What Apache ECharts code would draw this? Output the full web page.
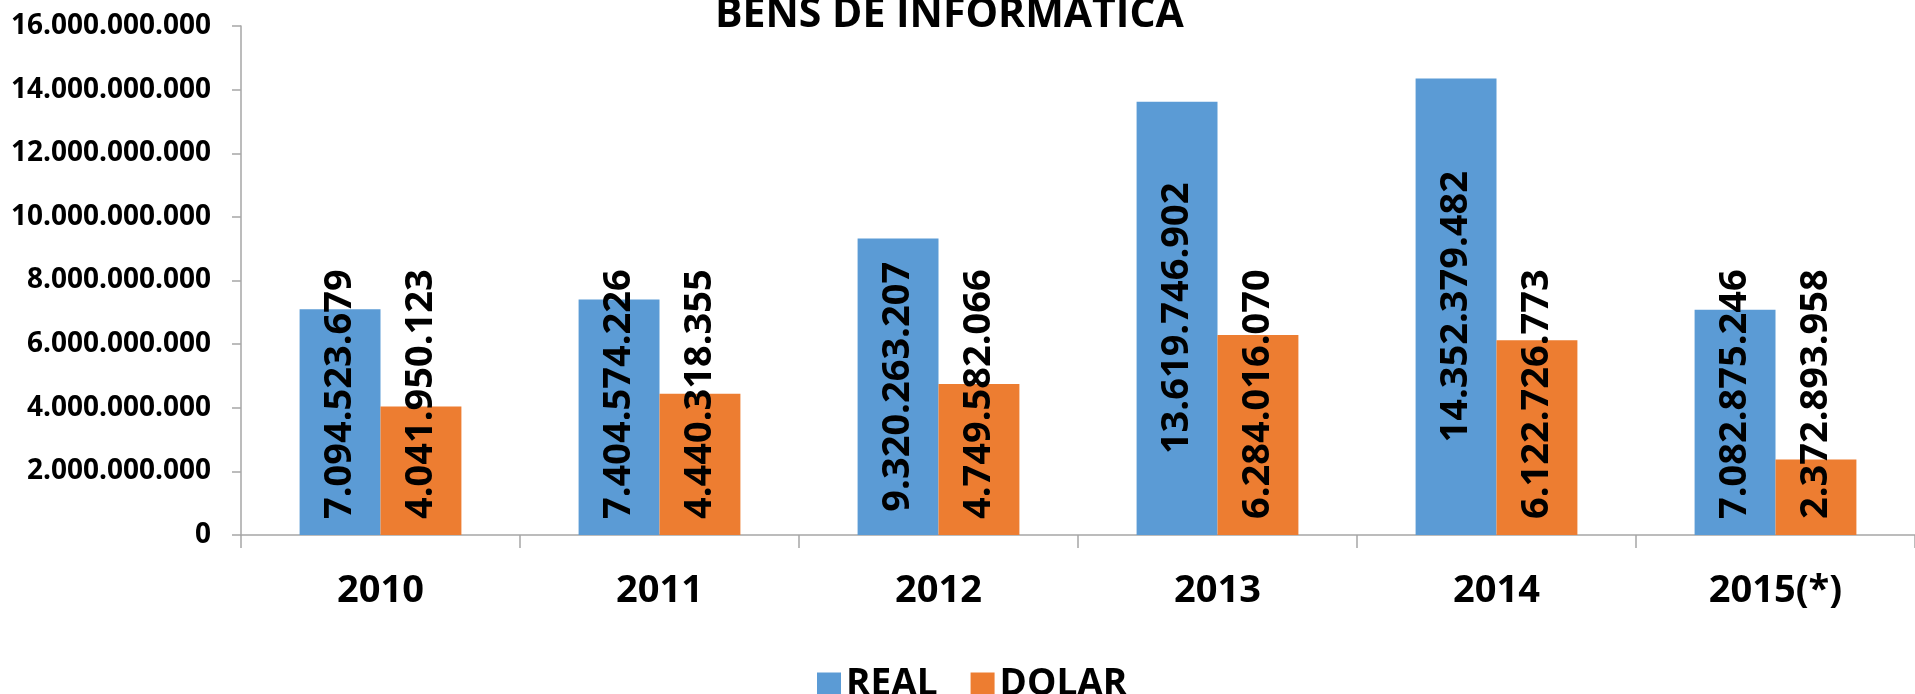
<!DOCTYPE html>
<html>
<head>
<meta charset="utf-8">
<script src="https://cdn.jsdelivr.net/npm/echarts@6/dist/echarts.min.js"></script>
<style>
  html, body { margin: 0; padding: 0; background: #fff; }
  #chart { width: 1915px; height: 694px; }
</style>
</head>
<body>
<div id="chart"></div>
<script>
const categories = ['2010', '2011', '2012', '2013', '2014', '2015(*)']
const realValues = [7094523679, 7404574226, 9320263207, 13619746902, 14352379482, 7082875246]
const dolarValues = [4041950123, 4440318355, 4749582066, 6284016070, 6122726773, 2372893958]
const yTicks = { min: 0, max: 16000000000, interval: 2000000000 }

// separador de milhar com ponto
function fmt (v) {
  return String(Math.round(v)).replace(/\B(?=(\d{3})+(?!\d))/g, '.')
}

const font = 'Open Sans'
const labelFontSize = 38
const labelDist = 16
const barLabel = {
  show: true,
  position: 'insideBottom',
  rotate: 90,
  align: 'left',
  verticalAlign: 'middle',
  distance: labelDist,
  color: '#000',
  fontFamily: font,
  fontWeight: 'bold',
  fontSize: labelFontSize,
  formatter: p => fmt(p.value)
}

const chart = echarts.init(document.getElementById('chart'))
const option = {
  animation: false,
  title: {
    text: 'BENS DE INFORMATICA',
    left: 710,
    top: -10,
    textStyle: { fontFamily: font, fontWeight: 'bold', fontSize: 41, color: '#000' }
  },
  legend: {
    top: 661,
    left: 812,
    itemWidth: 24,
    itemHeight: 24,
    itemGap: 33,
    icon: 'rect',
    textStyle: { fontFamily: font, fontWeight: 'bold', fontSize: 37, color: '#000' },
    data: ['REAL', 'DOLAR']
  },
  grid: { left: 241, width: 1680, top: 26, bottom: 159, containLabel: false },
  xAxis: {
    type: 'category',
    data: categories,
    axisLine: { lineStyle: { color: '#a6a6a6', width: 1.5 } },
    axisTick: { show: true, length: 13, lineStyle: { color: '#a6a6a6', width: 1.5 } },
    axisLabel: { color: '#000', fontFamily: font, fontWeight: 'bold', fontSize: 38, margin: 37 }
  },
  yAxis: {
    type: 'value',
    min: yTicks.min,
    max: yTicks.max,
    interval: yTicks.interval,
    splitLine: { show: false },
    axisLine: { show: true, lineStyle: { color: '#a6a6a6', width: 1.5 } },
    axisTick: { show: true, length: 9, lineStyle: { color: '#a6a6a6', width: 1.5 } },
    axisLabel: { color: '#000', fontFamily: font, fontWeight: 'bold', fontSize: 28, margin: 30, formatter: fmt }
  },
  series: [
    {
      name: 'REAL',
      type: 'bar',
      data: realValues,
      barGap: '0%',
      barCategoryGap: '42%',
      itemStyle: { color: '#5b9bd5' },
      label: barLabel
    },
    {
      name: 'DOLAR',
      type: 'bar',
      data: dolarValues,
      barGap: '0%',
      barCategoryGap: '42%',
      itemStyle: { color: '#ed7d31' },
      label: barLabel
    }
  ]
}
chart.setOption(option)

// rótulo centrado na barra, a não ser que não caiba (aí fica encostado na base)
const ctx = document.createElement('canvas').getContext('2d')
ctx.font = 'bold ' + labelFontSize + 'px "' + font + '"'
function place (values) {
  return values.map((v, i) => {
    const y0 = chart.convertToPixel({ gridIndex: 0 }, [i, 0])[1]
    const y1 = chart.convertToPixel({ gridIndex: 0 }, [i, v])[1]
    const len = ctx.measureText(fmt(v)).width
    const fits = (y0 - y1) >= len + 2 * labelDist
    return fits
      ? { value: v, label: { position: 'inside', align: 'center' } }
      : { value: v }
  })
}
chart.setOption({
  series: [{ data: place(realValues) }, { data: place(dolarValues) }]
})
</script>
</body>
</html>
